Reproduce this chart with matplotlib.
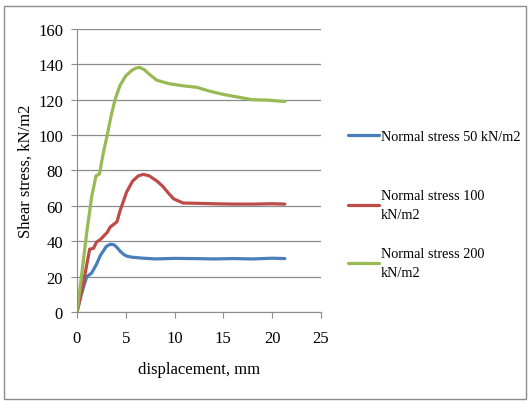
import matplotlib.pyplot as plt
from matplotlib.patches import Rectangle
from matplotlib.legend import Legend

plt.rcParams['font.family'] = ['Liberation Serif', 'DejaVu Serif']

# displacement (mm) / shear stress (kN/m2)
x50 = [0, 0.5, 1.0, 1.5, 2.0, 2.4, 3.0, 3.4, 3.8, 4.1, 4.4, 4.8, 5.1, 5.6, 6.6, 8, 10, 12, 14, 16, 18, 20, 21.3]
y50 = [0, 11, 20, 22, 27, 32, 37, 38.3, 38, 36.5, 34.5, 32.5, 31.6, 31, 30.5, 30, 30.3, 30.2, 30, 30.2, 30, 30.4, 30.2]

x100 = [0, 0.6, 1.3, 1.7, 2.0, 2.4, 3.1, 3.4, 4.1, 4.4, 5.1, 5.7, 6.3, 6.8, 7.4, 8.2, 8.8, 9.4, 9.9, 10.5, 10.9, 12, 14, 16, 18, 20, 21.3]
y100 = [0, 15, 35.5, 36, 39.5, 41, 45, 48, 51, 57, 68, 74, 77, 77.8, 77, 74, 71, 67, 64, 62.5, 61.6, 61.5, 61.2, 61, 61, 61.2, 61]

x200 = [0, 0.5, 1.0, 1.5, 1.95, 2.3, 2.7, 3.1, 3.5, 3.9, 4.4, 5.0, 5.6, 6.0, 6.4, 6.9, 7.5, 8.2, 9.5, 11, 12.3, 13.5, 15, 16, 17, 18, 19.5, 21.3]
y200 = [0, 22, 45, 65, 77, 78, 90, 100, 111, 120, 128, 133.5, 136.5, 137.8, 138.3, 137, 134, 131, 129, 127.8, 127, 125, 123, 122, 121, 120, 119.8, 119]

labels = ['Normal stress 50 kN/m2', 'Normal stress 100\nkN/m2', 'Normal stress 200\nkN/m2']
colors = ['#4A7EBB', '#BE4B48', '#98B954']

fig = plt.figure(figsize=(5.28, 4.02), dpi=100)
ax = fig.add_axes([0.1458, 0.2214, 0.462, 0.704])

lines = []
for xs, ys, lab, c in zip([x50, x100, x200], [y50, y100, y200], labels, colors):
    ln, = ax.plot(xs, ys, color=c, lw=2.3, label=lab, solid_capstyle='round')
    lines.append(ln)

ax.set_xlim(0, 25)
ax.set_ylim(0, 160)
ax.set_xticks(range(0, 26, 5))
ax.set_yticks(range(0, 161, 20))
ax.yaxis.grid(True, color='#8c8c8c', lw=0.9)
ax.set_axisbelow(True)
for s in ['top', 'right']:
    ax.spines[s].set_visible(False)
for s in ['left', 'bottom']:
    ax.spines[s].set_color('#8c8c8c')
ax.tick_params(axis='both', labelsize=12, length=4, color='#8c8c8c')
ax.tick_params(axis='x', pad=9)
ax.tick_params(axis='y', pad=6)
ax.set_xlabel('displacement, mm', fontsize=12, labelpad=11)
ax.set_ylabel('Shear stress, kN/m2', fontsize=12, labelpad=3)

# one legend per entry so the spacing matches the Excel legend
for ln, lab, yc in zip(lines, labels, [0.659, 0.4876, 0.3433]):
    leg = Legend(ax, [ln], [lab], loc='center left', bbox_to_anchor=(0.648, yc),
                 bbox_transform=fig.transFigure, frameon=False, fontsize=10.3,
                 handlelength=2.2, handletextpad=0.1, borderaxespad=0)
    for t in leg.get_texts():
        t.set_linespacing(1.6)
    ax.add_artist(leg)

fig.patches.append(Rectangle((0.008, 0.005), 0.988, 0.978, transform=fig.transFigure,
                             fill=False, edgecolor='#8c8c8c', lw=1))

fig.savefig('out.png', dpi=100)
